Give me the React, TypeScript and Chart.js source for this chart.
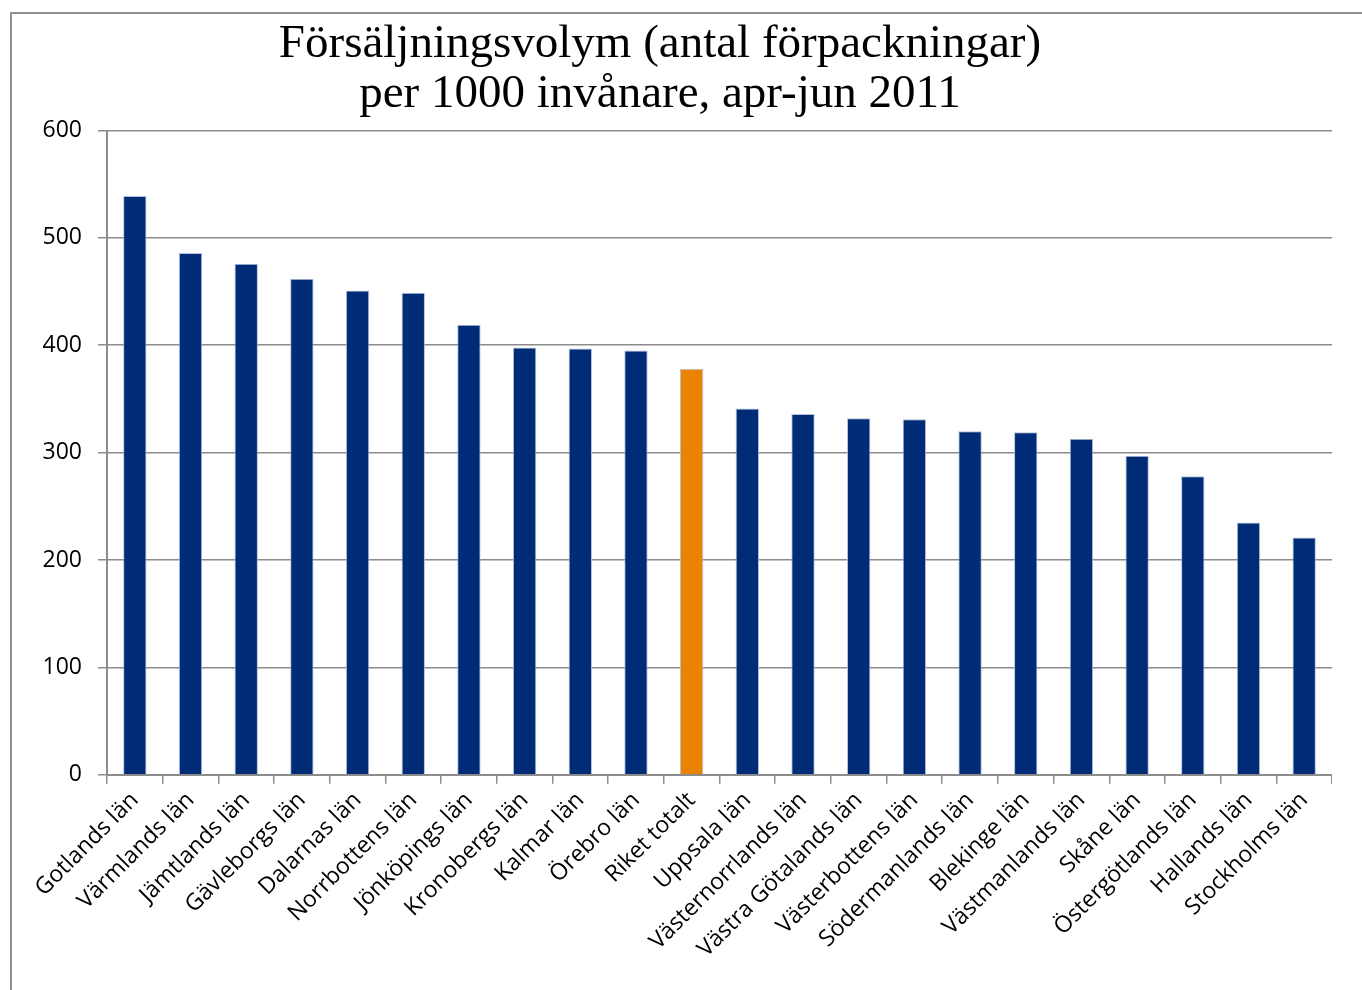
import React, { useEffect, useRef } from "react";
import { Chart, registerables } from "chart.js";

Chart.register(...registerables);

const titleLines = ["Försäljningsvolym (antal förpackningar)", "per 1000 invånare, apr-jun 2011"];

const categories = [
  "Gotlands län",
  "Värmlands län",
  "Jämtlands län",
  "Gävleborgs län",
  "Dalarnas län",
  "Norrbottens län",
  "Jönköpings län",
  "Kronobergs län",
  "Kalmar län",
  "Örebro län",
  "Riket totalt",
  "Uppsala län",
  "Västernorrlands län",
  "Västra Götalands län",
  "Västerbottens län",
  "Södermanlands län",
  "Blekinge län",
  "Västmanlands län",
  "Skåne län",
  "Östergötlands län",
  "Hallands län",
  "Stockholms län",
];

const salesPer1000 = [
  539, 486, 476, 462, 451, 449, 419, 398, 397, 395, 378, 341, 336, 332, 331, 320, 319, 313, 297, 278, 235, 221,
];

const yTicks = [0, 100, 200, 300, 400, 500, 600];

const highlightCategory = "Riket totalt";
const NAVY = "#002b77";
const ORANGE = "#e98300";
const GRID = "#8c8c8c";

export default function App() {
  const canvasRef = useRef<HTMLCanvasElement | null>(null);

  useEffect(() => {
    if (!canvasRef.current) return;
    const colors = categories.map((c) => (c === highlightCategory ? ORANGE : NAVY));
    const chart = new Chart(canvasRef.current, {
      type: "bar",
      data: {
        labels: categories,
        datasets: [
          {
            data: salesPer1000,
            backgroundColor: colors,
            borderColor: "rgba(170,185,215,0.9)",
            borderWidth: 1,
            barPercentage: 0.42,
            categoryPercentage: 1,
          },
        ],
      },
      options: {
        responsive: false,
        animation: false,
        events: [],
        layout: { padding: { left: 0, right: 0, top: 0, bottom: 24 } },
        plugins: {
          legend: { display: false },
          tooltip: { enabled: false },
          title: {
            display: true,
            text: titleLines,
            color: "#000",
            font: { family: "'Liberation Serif', serif", size: 47, weight: "normal", lineHeight: 1.08 },
            padding: { top: 19, bottom: 10 },
          },
        },
        scales: {
          x: {
            grid: {
              display: true,
              drawOnChartArea: false,
              drawTicks: true,
              tickLength: 9,
              color: GRID,
              lineWidth: 1.5,
              offset: true,
            },
            border: { display: true, color: GRID, width: 2 },
            ticks: {
              autoSkip: false,
              maxRotation: 45,
              minRotation: 45,
              color: "#000",
              padding: 3,
              font: { family: "'Open Sans', sans-serif", size: 23 },
            },
            afterFit: (scale: any) => {
              scale.paddingLeft = 0;
              scale.paddingRight = 0;
            },
          },
          y: {
            min: 0,
            max: 600,
            afterBuildTicks: (scale: any) => {
              scale.ticks = yTicks.map((v) => ({ value: v }));
            },
            grid: { color: GRID, lineWidth: 1.5, tickLength: 9 },
            border: { display: true, color: GRID, width: 2 },
            ticks: {
              color: "#000",
              padding: 16,
              font: { family: "'Open Sans', sans-serif", size: 23 },
            },
            afterFit: (scale: any) => {
              scale.width = 119;
            },
          },
        },
      },
    });
    return () => chart.destroy();
  }, []);

  return (
    <div
      style={{
        position: "fixed",
        left: 0,
        top: 0,
        width: 1362,
        height: 990,
        overflow: "hidden",
        background: "#fff",
      }}
    >
      <div
        style={{
          position: "absolute",
          left: 10,
          top: 12,
          width: 1400,
          height: 1000,
          border: "2px solid #8f8f8f",
          boxSizing: "border-box",
        }}
      />
      <div style={{ position: "absolute", left: -12, top: 0, width: 1344, height: 990 }}>
        <canvas ref={canvasRef} width={1344} height={990} style={{ display: "block" }} />
      </div>
    </div>
  );
}
